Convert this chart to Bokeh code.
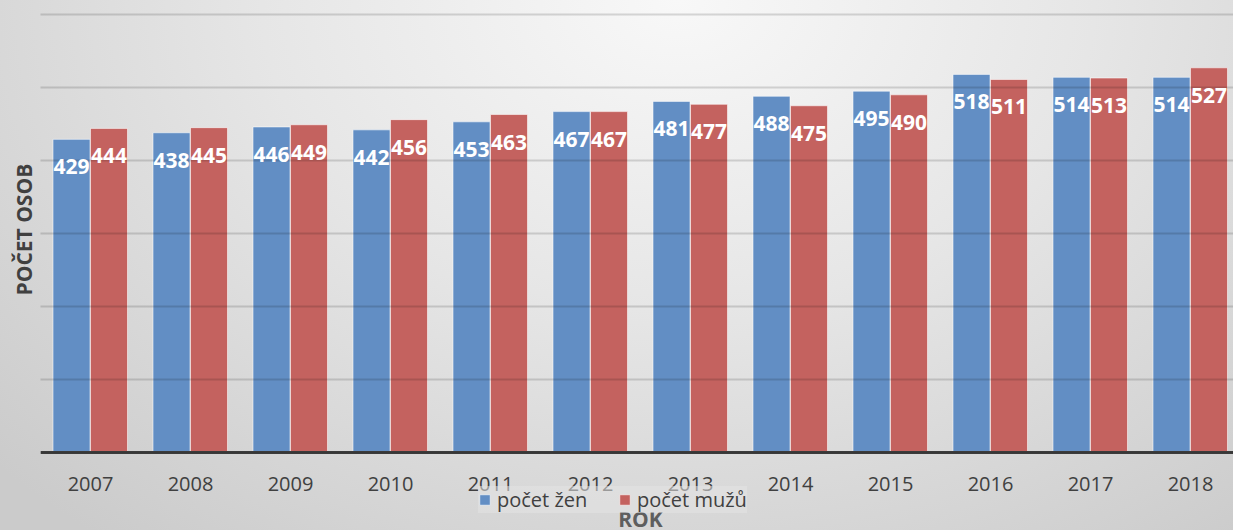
from bokeh.plotting import figure
from bokeh.models import (ColumnDataSource, Range1d, FixedTicker, Legend, LegendItem,
                          LabelSet, Label, Title)
from bokeh.transform import dodge
from bokeh.core.properties import value
from bokeh.embed import file_html
from bokeh.resources import INLINE

years = ["2007", "2008", "2009", "2010", "2011", "2012",
         "2013", "2014", "2015", "2016", "2017", "2018"]
zeny = [429, 438, 446, 442, 453, 467, 481, 488, 495, 518, 514, 514]
muzi = [444, 445, 449, 456, 463, 467, 477, 475, 490, 511, 513, 527]
y_ticks = [0, 100, 200, 300, 400, 500, 600]
series_names = ["počet žen", "počet mužů"]
y_title = "POČET OSOB"
x_title = "ROK"

BLUE = "#628ec4"
RED = "#c4625f"
TXT = "#404040"
FONT = "Open Sans"

idx = list(range(len(years)))
src = ColumnDataSource(dict(idx=idx, zeny=zeny, muzi=muzi,
                            zl=[str(v) for v in zeny], ml=[str(v) for v in muzi]))

p = figure(width=1233, height=530,
           x_range=Range1d(-0.5, 11.43), y_range=Range1d(-106.8, 619.2),
           output_backend="svg", toolbar_location=None,
           min_border=0, min_border_left=40)
p.styles = {"background": "radial-gradient(ellipse 75% 130% at 55% 0%, #f8f8f8 0%, #e6e6e6 45%, #cbcbcb 100%)"}
p.background_fill_color = None
p.border_fill_color = None
p.outline_line_color = None

rb = p.vbar(x=dodge("idx", -0.19, range=p.x_range), top="zeny", width=0.37, source=src,
            fill_color=BLUE, line_color="#ffffff", line_alpha=0.55, line_width=1)
rr = p.vbar(x=dodge("idx", 0.185, range=p.x_range), top="muzi", width=0.37, source=src,
            fill_color=RED, line_color="#ffffff", line_alpha=0.55, line_width=1)

# y axis hidden; grid keeps its own ticks
p.yaxis.visible = False
p.xgrid.visible = False
p.ygrid.ticker = FixedTicker(ticks=y_ticks)
p.ygrid.grid_line_color = "#000000"
p.ygrid.grid_line_alpha = 0.14
p.ygrid.grid_line_width = 2
p.ygrid.level = "annotation"

# y title in the left panel
p.add_layout(Title(text=y_title, align="left", offset=235, standoff=6,
                   text_font=FONT, text_font_style="bold", text_font_size="21px",
                   text_color=TXT), "left")

# x axis, drawn at y = 0 inside the frame
p.xaxis.fixed_location = 0
p.xaxis.ticker = FixedTicker(ticks=idx)
p.xaxis.major_label_overrides = {i: y for i, y in zip(idx, years)}
p.xaxis.axis_line_color = TXT
p.xaxis.axis_line_width = 3
p.xaxis.major_tick_line_color = None
p.xaxis.minor_tick_line_color = None
p.xaxis.major_label_text_font = FONT
p.xaxis.major_label_text_font_size = "20px"
p.xaxis.major_label_text_color = TXT
p.xaxis.major_label_standoff = 18

# value labels
for col, lab, off in (("zeny", "zl", -0.19), ("muzi", "ml", 0.185)):
    p.add_layout(LabelSet(x=dodge("idx", off, range=p.x_range), y=col, text=lab, source=src,
                          text_align="center", text_baseline="top", y_offset=-20,
                          text_color="white", text_font=value(FONT),
                          text_font_style="bold", text_font_size="21px"))

legend = Legend(items=[LegendItem(label=series_names[0], renderers=[rb]),
                       LegendItem(label=series_names[1], renderers=[rr])],
                orientation="horizontal", location=(438, 17),
                glyph_width=13, glyph_height=13, label_standoff=6, spacing=11,
                label_width=110, label_height=20, padding=13, margin=0,
                label_text_font=FONT, label_text_font_size="20px", label_text_color=TXT,
                background_fill_color="#e4e4e4", background_fill_alpha=0.55,
                border_line_color=None)
p.add_layout(legend, "center")

p.add_layout(Label(x=(len(years) - 1) / 2, y=0, y_offset=-52, text=x_title,
                   text_align="center", text_baseline="top", text_font=FONT,
                   text_font_style="bold", text_font_size="21px", text_color="#5e5e5e"))

open("out.html", "w").write(file_html(p, INLINE))
